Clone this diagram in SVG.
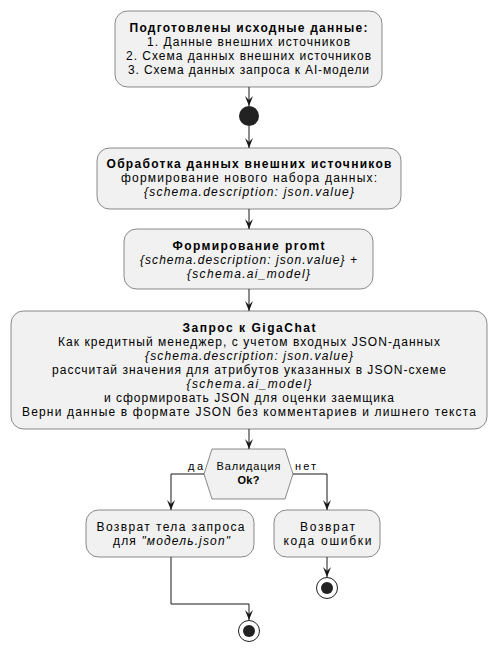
<svg xmlns="http://www.w3.org/2000/svg" width="498" height="652" viewBox="0 0 498 652">
<style>
.box{fill:#F1F1F1;stroke:#181818;stroke-width:0.5}
.t{font-family:"Liberation Sans",Arial,sans-serif;font-size:12px;fill:#000;text-anchor:middle}
.b{font-weight:bold}
.i{font-style:italic}
.c{fill:none;stroke:#181818;stroke-width:1}
.lbl{font-family:"Liberation Sans",Arial,sans-serif;font-size:11px;fill:#000}
</style>
<defs>
<marker id="ah" viewBox="0 0 10 10" refX="10" refY="5" markerWidth="10" markerHeight="10" markerUnits="userSpaceOnUse" orient="auto">
<path d="M0,1 L10,5 L0,9 L4,5 Z" fill="#181818"/>
</marker>
</defs>
<g id="connectors">
<path class="c" d="M249,87 V106" marker-end="url(#ah)"/>
<path class="c" d="M249,126 V148" marker-end="url(#ah)"/>
<path class="c" d="M249,209 V229" marker-end="url(#ah)"/>
<path class="c" d="M249,289 V311" marker-end="url(#ah)"/>
<path class="c" d="M249,429 V449" marker-end="url(#ah)"/>
<path class="c" d="M204,474 H171 V510" marker-end="url(#ah)"/>
<path class="c" d="M293,474 H327 V510" marker-end="url(#ah)"/>
<path class="c" d="M327,557 V577" marker-end="url(#ah)"/>
<path class="c" d="M171,557 V604 H249 V620" marker-end="url(#ah)"/>
<text class="lbl" x="188" y="470" textLength="15" lengthAdjust="spacing">да</text>
<text class="lbl" x="295" y="470" textLength="21" lengthAdjust="spacing">нет</text>
</g>
<g id="n1">
<rect class="box" x="115" y="11" width="267" height="76" rx="12.5"/>
<text class="t b" x="248.5" y="32" textLength="238" lengthAdjust="spacing">Подготовлены исходные данные:</text>
<text class="t" x="248.5" y="46" textLength="203" lengthAdjust="spacing">1. Данные внешних источников</text>
<text class="t" x="248.5" y="60" textLength="245" lengthAdjust="spacing">2. Схема данных внешних источников</text>
<text class="t" x="248.5" y="74" textLength="241" lengthAdjust="spacing">3. Схема данных запроса к AI-модели</text>
</g>
<g id="start">
<circle cx="249" cy="116" r="10" fill="#222222"/>
</g>
<g id="n2">
<rect class="box" x="97" y="148" width="304" height="61" rx="12.5"/>
<text class="t b" x="249" y="168" textLength="285" lengthAdjust="spacing">Обработка данных внешних источников</text>
<text class="t" x="249" y="182" textLength="256" lengthAdjust="spacing">формирование нового набора данных:</text>
<text class="t i" x="249" y="196" textLength="210" lengthAdjust="spacing">{schema.description: json.value}</text>
</g>
<g id="n3">
<rect class="box" x="124" y="229" width="249" height="60" rx="12.5"/>
<text class="t b" x="248.5" y="250" textLength="152" lengthAdjust="spacing">Формирование promt</text>
<text class="t i" x="248.5" y="264" textLength="217" lengthAdjust="spacing">{schema.description: json.value} +</text>
<text class="t i" x="248.5" y="278" textLength="123" lengthAdjust="spacing">{schema.ai_model}</text>
</g>
<g id="n4">
<rect class="box" x="11" y="311" width="476" height="118" rx="12.5"/>
<text class="t b" x="249" y="332" textLength="133" lengthAdjust="spacing">Запрос к GigaChat</text>
<text class="t" x="249" y="346" textLength="382" lengthAdjust="spacing">Как кредитный менеджер, с учетом входных JSON-данных</text>
<text class="t i" x="249" y="360" textLength="208" lengthAdjust="spacing">{schema.description: json.value}</text>
<text class="t" x="249" y="374" textLength="394" lengthAdjust="spacing">рассчитай значения для атрибутов указанных в JSON-схеме</text>
<text class="t i" x="249" y="388" textLength="125" lengthAdjust="spacing">{schema.ai_model}</text>
<text class="t" x="249" y="402" textLength="290" lengthAdjust="spacing">и сформировать JSON для оценки заемщика</text>
<text class="t" x="249" y="416" textLength="454" lengthAdjust="spacing">Верни данные в формате JSON без комментариев и лишнего текста</text>
</g>
<g id="decision">
<polygon class="box" points="204,474 212,449 285,449 293,474 285,499 212,499"/>
<text class="t" x="248.5" y="470" style="font-size:11px" textLength="64" lengthAdjust="spacing">Валидация</text>
<text class="t b" x="248.5" y="484" style="font-size:11px" textLength="22" lengthAdjust="spacing">Ok?</text>
</g>
<g id="n5">
<rect class="box" x="86" y="510" width="168" height="47" rx="12.5"/>
<text class="t" x="170.5" y="531" textLength="148" lengthAdjust="spacing">Возврат тела запроса</text>
<text class="t" x="171.5" y="545" textLength="117" lengthAdjust="spacing">для <tspan class="i">"модель.json"</tspan></text>
</g>
<g id="n6">
<rect class="box" x="274" y="510" width="106" height="47" rx="12.5"/>
<text class="t" x="327.5" y="531" textLength="55" lengthAdjust="spacing">Возврат</text>
<text class="t" x="327.5" y="545" textLength="88" lengthAdjust="spacing">кода ошибки</text>
</g>
<g id="end1">
<circle cx="327" cy="588" r="10.5" fill="none" stroke="#222222" stroke-width="1"/>
<circle cx="327" cy="588" r="6" fill="#222222"/>
</g>
<g id="end2">
<circle cx="249" cy="631" r="10.5" fill="none" stroke="#222222" stroke-width="1"/>
<circle cx="249" cy="631" r="6" fill="#222222"/>
</g>
</svg>
